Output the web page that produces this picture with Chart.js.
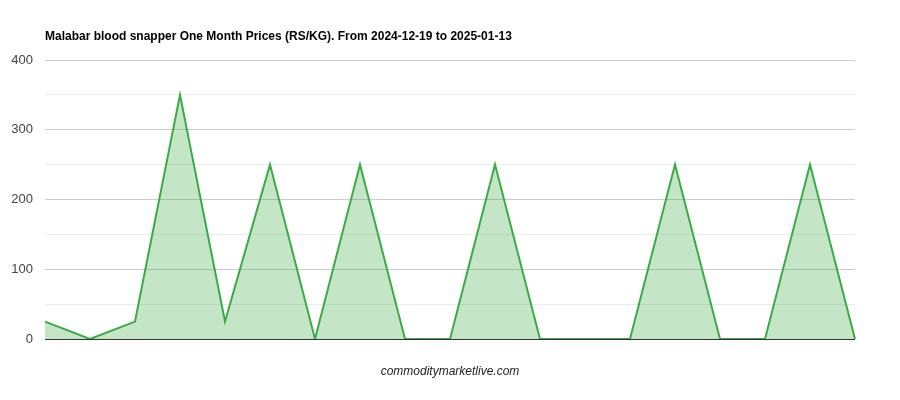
<!DOCTYPE html>
<html>
<head>
<meta charset="utf-8">
<script src="https://cdn.jsdelivr.net/npm/chart.js@4"></script>
<style>
  html, body { margin: 0; padding: 0; background: #fff; }
  #wrap { position: relative; width: 900px; height: 400px; font-family: "Liberation Sans", Arial, sans-serif; }
  #title { position: absolute; left: 45px; top: 29px; font-size: 12px; font-weight: bold; color: #000; white-space: nowrap; }
  #foot { position: absolute; left: 0; width: 900px; top: 364px; text-align: center; font-size: 12px; font-style: italic; color: #222; }
  canvas { position: absolute; left: 0; top: 0; }
</style>
</head>
<body>
<div id="wrap">
  <canvas id="c" width="900" height="400"></canvas>
  <div id="title">Malabar blood snapper One Month Prices (RS/KG). From 2024-12-19 to 2025-01-13</div>
  <div id="foot">commoditymarketlive.com</div>
</div>
<script>
const categories = ["2024-12-19","2024-12-20","2024-12-21","2024-12-23","2024-12-24","2024-12-26","2024-12-27","2024-12-28","2024-12-30","2024-12-31","2025-01-02","2025-01-03","2025-01-04","2025-01-06","2025-01-07","2025-01-08","2025-01-09","2025-01-11","2025-01-13"];
const prices = [25, 0, 25, 350, 25, 250, 0, 250, 0, 0, 250, 0, 0, 0, 250, 0, 0, 250, 0];
const yMax = 400;

new Chart(document.getElementById('c'), {
  type: 'line',
  data: {
    labels: categories,
    datasets: [{
      data: prices,
      borderColor: '#3cab47',
      backgroundColor: 'rgba(60,171,71,0.3)',
      borderWidth: 2,
      fill: 'origin',
      pointRadius: 0,
      tension: 0
    }]
  },
  options: {
    responsive: false,
    animation: false,
    layout: { padding: { top: 60, bottom: 61, right: 45, left: 0 } },
    plugins: { legend: { display: false }, title: { display: false }, tooltip: { enabled: false } },
    scales: {
      x: { display: false },
      y: {
        min: 0, max: yMax,
        afterFit: s => { s.width = 45; },
        border: { display: false },
        ticks: {
          stepSize: 50,
          padding: 12,
          color: '#444',
          font: { family: '"Liberation Sans", Arial, sans-serif', size: 13 },
          callback: v => (v % 100 === 0 ? v : '')
        },
        grid: {
          drawTicks: false,
          color: ctx => ctx.tick.value === 0 ? '#333' : (ctx.tick.value % 100 === 0 ? '#cccccc' : '#ebebeb'),
          lineWidth: 1
        }
      }
    }
  }
});
</script>
</body>
</html>
